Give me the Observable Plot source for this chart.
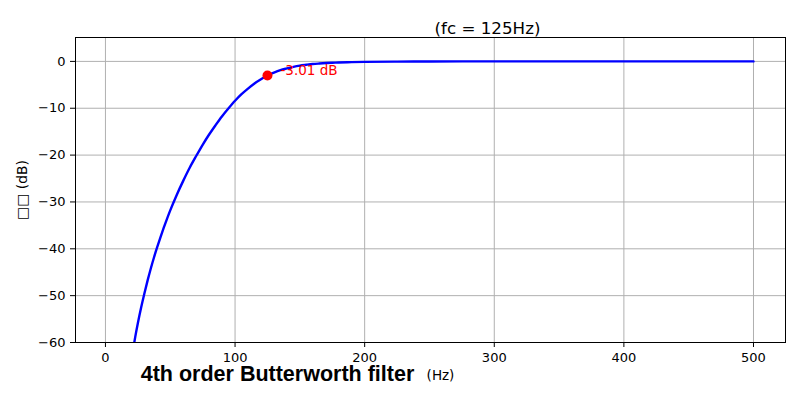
<!DOCTYPE html>
<html>
<head>
<meta charset="utf-8">
<script src="https://cdn.jsdelivr.net/npm/d3@7"></script>
<script src="https://cdn.jsdelivr.net/npm/@observablehq/plot@0.6"></script>
<style>
  html, body { margin: 0; padding: 0; background: #fff; }
</style>
</head>
<body>
<div id="chart"></div>
<script>
// Frequency (Hz) and gain (dB)
const freqs = [20, 21, 23, 25, 27.5, 30, 32.5, 35, 37.5, 40, 42.5, 45, 47.5, 50, 55, 60, 65, 70, 75, 80, 85, 90, 95, 100, 105, 110, 115, 120, 125, 130, 135, 140, 145, 150, 155, 160, 165, 175, 180, 190, 200, 225, 250, 300, 400, 500];
const gains = [-63.7, -62.0, -58.8, -55.9, -52.6, -49.6, -46.8, -44.2, -41.8, -39.6, -37.5, -35.5, -33.6, -31.8, -28.5, -25.5, -22.7, -20.2, -17.8, -15.6, -13.6, -11.7, -10.0, -8.4, -7.0, -5.8, -4.7, -3.8, -3.01, -2.4, -1.88, -1.5, -1.16, -0.9, -0.72, -0.56, -0.45, -0.28, -0.23, -0.15, -0.1, -0.04, -0.02, 0, 0, 0];

const cutoffFreq = [125];
const cutoffGain = [-3.01];
const cutoffLabel = ["-3.01 dB"];

const xTicks = [0, 100, 200, 300, 400, 500];
const yTicks = [0, -10, -20, -30, -40, -50, -60];

const titleText = ["(fc = 125Hz)"];
const yLabelText = ["\u25A1\u25A1 (dB)"];
const xLabelText = ["(Hz)"];
const noteText = ["4th order Butterworth filter"];

const curve = freqs.map((f, i) => ({f, g: gains[i]}));
const cutoff = cutoffFreq.map((f, i) => ({f, g: cutoffGain[i], label: cutoffLabel[i]}));

const fmt = d3.format("d");

const chart = Plot.plot({
  width: 800,
  height: 400,
  marginLeft: 75,
  marginRight: 15,
  marginTop: 37,
  marginBottom: 58,
  style: {fontFamily: "DejaVu Sans", fontSize: "13px", background: "#fff", color: "#000"},
  x: {domain: [-23.1, 524.7], label: null},
  y: {domain: [-60, 5.1], label: null},
  marks: [
    Plot.gridX(xTicks, {stroke: "#b0b0b0", strokeOpacity: 1, strokeWidth: 1}),
    Plot.gridY(yTicks, {stroke: "#b0b0b0", strokeOpacity: 1, strokeWidth: 1}),
    Plot.line(curve, {x: "f", y: "g", stroke: "#0000ff", strokeWidth: 2.4, curve: "monotone-x", clip: true}),
    Plot.dot(cutoff, {x: "f", y: "g", r: 5, fill: "#ff0000", stroke: "none"}),
    Plot.text(cutoff, {x: "f", y: "g", text: "label", fill: "#ff0000", textAnchor: "start", dx: 13, dy: -5, fontSize: 13.5, fontFamily: "DejaVu Sans"}),
    Plot.frame({stroke: "#000", strokeWidth: 1}),
    Plot.axisX(xTicks, {tickSize: 5, tickPadding: 5, tickFormat: fmt, label: null, fontSize: 13, fontFamily: "DejaVu Sans"}),
    Plot.axisY(yTicks, {tickSize: 5, tickPadding: 5, tickFormat: fmt, label: null, fontSize: 13, fontFamily: "DejaVu Sans"}),
    Plot.text(titleText, {text: d => d, frameAnchor: "top", dx: 57, dy: -15, fontSize: 16.7, fontFamily: "DejaVu Sans", fill: "#000"}),
    Plot.text(yLabelText, {text: d => d, frameAnchor: "left", textAnchor: "middle", dx: -53, rotate: -90, fontSize: 13.9, fontFamily: "DejaVu Sans", fill: "#000"}),
    Plot.text(xLabelText, {text: d => d, frameAnchor: "bottom", dx: 10, dy: 37, fontSize: 13.5, fontFamily: "DejaVu Sans", fill: "#000"}),
    Plot.text(noteText, {text: d => d, frameAnchor: "bottom-left", dx: 202, dy: 38, textAnchor: "middle", fontSize: 21.5, fontWeight: "bold", fontFamily: "Liberation Sans", fill: "#000"})
  ]
});
document.getElementById("chart").append(chart);
</script>
</body>
</html>
